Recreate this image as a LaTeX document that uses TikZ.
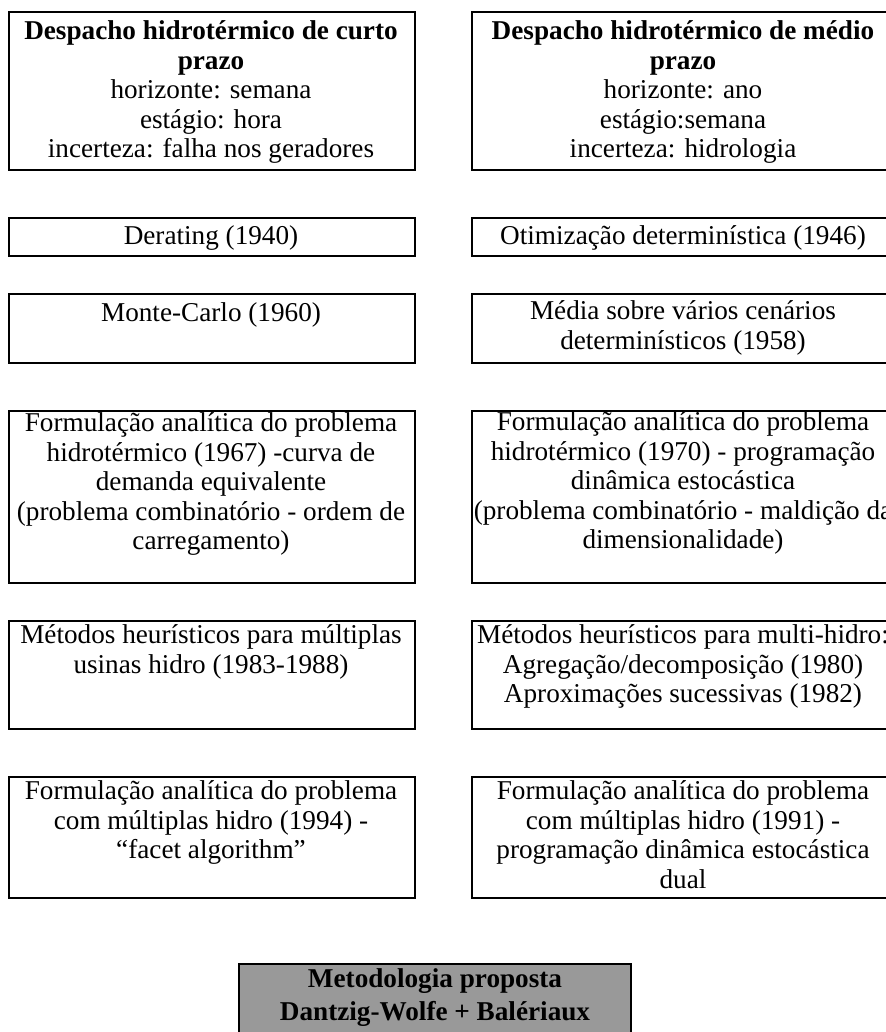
\documentclass[tikz,border=0pt]{standalone}
\usepackage{fontspec}
\setmainfont{Liberation Serif}
\begin{document}
\begin{tikzpicture}[x=0.5pt,y=-0.5pt,
  cell/.style 2 args={draw=black, line width=1.1pt, rectangle, inner sep=0pt,
    anchor=north west, minimum width=#1*0.5pt, minimum height=#2*0.5pt},
  % text blocks hang from their top edge; the strut fixes the first baseline
  txt/.style={anchor=north, align=center, inner sep=0pt,
    font=\fontsize{13.6pt}{14.75pt}\selectfont, execute at begin node=\strut}
]
\useasboundingbox (0,0) rectangle (886,1032);

% ---- left column: short-term dispatch ----
\node[cell={406}{158}] (L1) at (8,11) {};
\node[txt] (L1t) at (211,20.4) {\textbf{Despacho hidrotérmico de curto}\\\textbf{prazo}\\horizonte: semana\\estágio: hora\\incerteza: falha nos geradores};

\node[cell={406}{38}] (L2) at (8,217) {};
\node[txt] (L2t) at (211,223.4) {Derating (1940)};

\node[cell={406}{69}] (L3) at (8,293) {};
\node[txt] (L3t) at (211,300.4) {Monte-Carlo (1960)};

\node[cell={406}{172}] (L4) at (8,410) {};
\node[txt] (L4t) at (211,412.4) {Formulação analítica do problema\\hidrotérmico (1967) -curva de\\demanda equivalente\\(problema combinatório - ordem de\\carregamento)};

\node[cell={406}{108}] (L5) at (8,620) {};
\node[txt] (L5t) at (211,624.4) {Métodos heurísticos para múltiplas\\usinas hidro (1983-1988)};

\node[cell={406}{121}] (L6) at (8,776) {};
\node[txt] (L6t) at (211,780.4) {Formulação analítica do problema\\com múltiplas hidro (1994) -\\“facet algorithm”};

% ---- right column: medium-term dispatch ----
\node[cell={424}{158}] (R1) at (471,11) {};
\node[txt] (R1t) at (683,20.4) {\textbf{Despacho hidrotérmico de médio}\\\textbf{prazo}\\horizonte: ano\\estágio:semana\\incerteza: hidrologia};

\node[cell={424}{38}] (R2) at (471,217) {};
\node[txt] (R2t) at (683,223.4) {Otimização determinística (1946)};

\node[cell={424}{69}] (R3) at (471,293) {};
\node[txt] (R3t) at (683,300.4) {Média sobre vários cenários\\determinísticos (1958)};

\node[cell={424}{172}] (R4) at (471,410) {};
\node[txt] (R4t) at (683,411.4) {Formulação analítica do problema\\hidrotérmico (1970) - programação\\dinâmica estocástica\\(problema combinatório - maldição da\\dimensionalidade)};

\node[cell={424}{108}] (R5) at (471,620) {};
\node[txt] (R5t) at (683,624.4) {Métodos heurísticos para multi-hidro:\\Agregação/decomposição (1980)\\Aproximações sucessivas (1982)};

\node[cell={424}{121}] (R6) at (471,776) {};
\node[txt] (R6t) at (683,780.4) {Formulação analítica do problema\\com múltiplas hidro (1991) -\\programação dinâmica estocástica\\dual};

% ---- proposed methodology ----
\node[cell={392}{70}, fill=black!40] (P) at (238,963) {};
\node[txt, font=\fontsize{13.6pt}{16.5pt}\selectfont\bfseries] (Pt) at (435,967.9) {Metodologia proposta\\Dantzig-Wolfe + Balériaux};
\end{tikzpicture}
\end{document}
